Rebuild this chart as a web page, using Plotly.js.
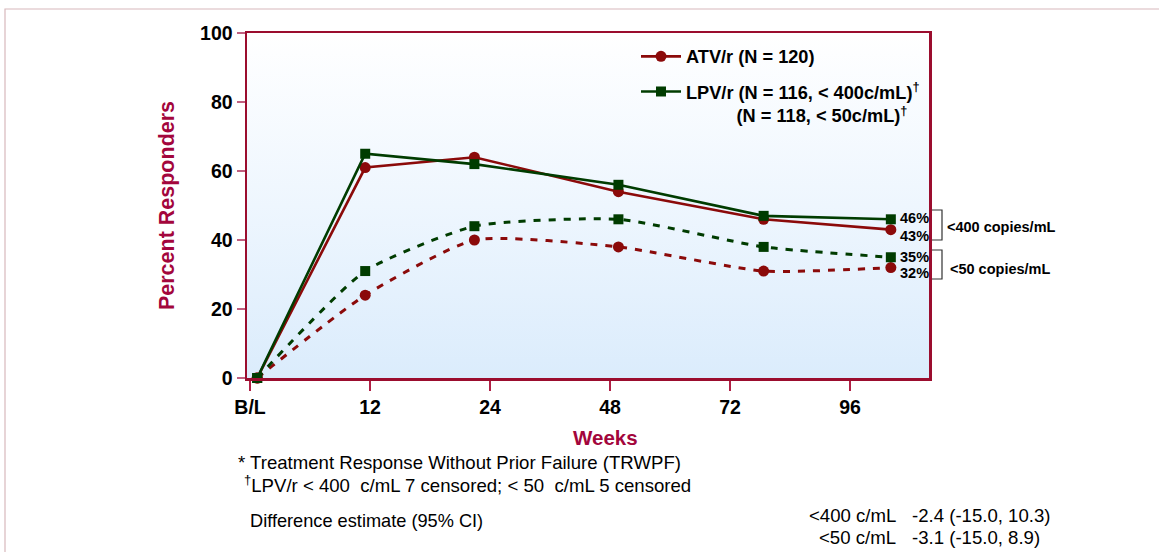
<!DOCTYPE html>
<html>
<head>
<meta charset="utf-8">
<script src="https://cdn.plot.ly/plotly-3.0.1.min.js"></script>
<style>
  html, body { margin: 0; padding: 0; background: #ffffff; }
  #chart { width: 1159px; height: 552px; }
</style>
</head>
<body>
<div id="chart"></div>
<script>
// ---- data ----
const tickLabels = ['B/L', '12', '24', '48', '72', '96'];
const tickPos = [0, 1, 2, 3, 4, 5];
const weekPos = [0.06, 0.96, 1.87, 3.07, 4.28, 5.34];
const atv400 = [0, 61, 64, 54, 46, 43];
const lpv400 = [0, 65, 62, 56, 47, 46];
const atv50 = [0, 24, 40, 38, 31, 32];
const lpv50 = [0, 31, 44, 46, 38, 35];
const atvName = 'ATV/r (N = 120)';
const lpvName = 'LPV/r (N = 116, &lt; 400c/mL)<sup>†</sup><br>' + '\u00a0'.repeat(10) + '(N = 118, &lt; 50c/mL)<sup>†</sup>';

// ---- styles ----
const RED = '#8b0a0a';
const GREEN = '#003c00';
const FRAME = '#9b0d2e';
const TITLE = '#a3063c';
const FONT = 'Liberation Sans, Arial, sans-serif';

const W = 1159, H = 552;
const L = 247, R = 929, T = 33, B = 378;
const px = X => (X - L) / (R - L);
const py = Y => (B - Y) / (B - T);

const traces = [
  { x: weekPos, y: atv400, name: atvName, legendgroup: 'a', mode: 'lines+markers',
    line: { color: RED, width: 2.6 }, marker: { symbol: 'circle', size: 11, color: RED }, cliponaxis: false },
  { x: weekPos, y: atv50, name: atvName, legendgroup: 'a', showlegend: false, mode: 'lines+markers',
    line: { color: RED, width: 3, dash: '7px,8px', shape: 'spline', smoothing: 0.55 },
    marker: { symbol: 'circle', size: 11, color: RED }, cliponaxis: false },
  { x: weekPos, y: lpv400, name: lpvName, legendgroup: 'b', mode: 'lines+markers',
    line: { color: GREEN, width: 2.6 }, marker: { symbol: 'square', size: 10, color: GREEN }, cliponaxis: false },
  { x: weekPos, y: lpv50, name: lpvName, legendgroup: 'b', showlegend: false, mode: 'lines+markers',
    line: { color: GREEN, width: 3, dash: '7px,8px', shape: 'spline', smoothing: 0.55 },
    marker: { symbol: 'square', size: 10, color: GREEN }, cliponaxis: false }
];

const last = weekPos.length - 1;
const bold = (s) => '<b>' + s + '</b>';

const gradSvg = "<svg xmlns='http://www.w3.org/2000/svg' width='10' height='100' preserveAspectRatio='none'>" +
  "<defs><linearGradient id='g' x1='0' y1='0' x2='0' y2='1'>" +
  "<stop offset='0' stop-color='#ffffff'/><stop offset='0.5' stop-color='#eef6fe'/><stop offset='1' stop-color='#dbecfc'/>" +
  "</linearGradient></defs><rect width='10' height='100' fill='url(#g)'/></svg>";
const gradUri = 'data:image/svg+xml;charset=utf-8,' + encodeURIComponent(gradSvg);

const annotations = [
  // end-value labels
  { x: weekPos[last], y: lpv400[last], text: bold(lpv400[last] + '%'), yshift: 1 },
  { x: weekPos[last], y: atv400[last], text: bold(atv400[last] + '%'), yshift: -6 },
  { x: weekPos[last], y: lpv50[last], text: bold(lpv50[last] + '%'), yshift: 0 },
  { x: weekPos[last], y: atv50[last], text: bold(atv50[last] + '%'), yshift: -5 }
].map(a => Object.assign({ xref: 'x', yref: 'y', xanchor: 'left', yanchor: 'middle', xshift: 7,
  showarrow: false, font: { family: FONT, size: 14.5, color: '#000' } }, a));

const paperText = (X, Y, text, opts) => Object.assign({
  xref: 'paper', yref: 'paper', x: px(X), y: py(Y), text: text, showarrow: false,
  xanchor: 'left', yanchor: 'middle', font: { family: FONT, size: 18, color: '#000' }
}, opts || {});

annotations.push(
  paperText(945, 227, bold('&lt;400 copies/mL'), { font: { family: FONT, size: 14.5, color: '#000' } }),
  paperText(948, 269, bold('&lt;50 copies/mL'), { font: { family: FONT, size: 14.5, color: '#000' } }),
  paperText(605, 438, bold('Weeks'), { xanchor: 'center', font: { family: FONT, size: 20.5, color: TITLE } }),
  paperText(236, 462, '* Treatment Response Without Prior Failure (TRWPF)', { font: { family: FONT, size: 18.6, color: '#000' } }),
  paperText(242, 484, '<sup>†</sup>LPV/r &lt; 400\u00a0 c/mL 7 censored; &lt; 50\u00a0 c/mL 5 censored', { font: { family: FONT, size: 18.6, color: '#000' } }),
  paperText(248, 521, 'Difference estimate (95% CI)', { font: { family: FONT, size: 18.2, color: '#000' } }),
  paperText(898, 515, '&lt;400 c/mL', { xanchor: 'right', font: { family: FONT, size: 18.6, color: '#000' } }),
  paperText(910, 515, '-2.4 (-15.0, 10.3)', { font: { family: FONT, size: 18.6, color: '#000' } }),
  paperText(898, 537, '&lt;50 c/mL', { xanchor: 'right', font: { family: FONT, size: 18.6, color: '#000' } }),
  paperText(910, 537, '-3.1 (-15.0, 8.9)', { font: { family: FONT, size: 18.6, color: '#000' } })
);

const bracket = (y1, y2) => ({
  type: 'path', xref: 'paper', yref: 'paper',
  path: `M ${px(932)} ${py(y1)} L ${px(942)} ${py(y1)} L ${px(942)} ${py(y2)} L ${px(932)} ${py(y2)}`,
  line: { color: '#333', width: 1.2 }
});

const layout = {
  width: W, height: H,
  margin: { l: L, r: W - R, t: T, b: H - B, pad: 0 },
  paper_bgcolor: '#ffffff',
  plot_bgcolor: '#ffffff',
  font: { family: FONT, color: '#000' },
  showlegend: true,
  legend: {
    x: px(636), y: py(38), xanchor: 'left', yanchor: 'top',
    bgcolor: 'rgba(0,0,0,0)', borderwidth: 0, itemwidth: 40,
    font: { family: FONT, size: 18.2, color: '#000', weight: 'bold' },
    traceorder: 'grouped', tracegroupgap: 8.5, valign: 'top'
  },
  xaxis: {
    range: [-0.025, 5.658], tickmode: 'array', tickvals: tickPos, ticktext: tickLabels,
    showline: true, mirror: true, linecolor: FRAME, linewidth: 2.5,
    ticks: 'outside', ticklen: 10, tickwidth: 1.5, tickcolor: '#b02045',
    showgrid: false, zeroline: false,
    tickfont: { family: FONT, size: 19.5, color: '#000', weight: 'bold' }
  },
  yaxis: {
    range: [0, 100], tickvals: [0, 20, 40, 60, 80, 100],
    showline: true, mirror: true, linecolor: FRAME, linewidth: 2.5,
    ticks: 'outside', ticklen: 8, tickwidth: 1.2, tickcolor: '#c06080',
    showgrid: false, zeroline: false,
    tickfont: { family: FONT, size: 19.5, color: '#000', weight: 'bold' },
    title: { text: 'Percent Responders', standoff: 20, font: { family: FONT, size: 21.5, color: TITLE, weight: 'bold' } }
  },
  images: [{ source: gradUri, xref: 'paper', yref: 'paper', x: 0, y: 1, sizex: 1, sizey: 1,
    sizing: 'stretch', xanchor: 'left', yanchor: 'top', layer: 'below' }],
  shapes: [
    bracket(210, 240),
    bracket(250, 279),
    { type: 'rect', xref: 'paper', yref: 'paper', x0: px(5), x1: px(1165), y0: py(9), y1: py(560),
      line: { color: '#d8b8bc', width: 1.2 }, fillcolor: 'rgba(0,0,0,0)', layer: 'below' }
  ],
  annotations: annotations
};

Plotly.newPlot('chart', traces, layout, { displayModeBar: false, staticPlot: true });
</script>
</body>
</html>
